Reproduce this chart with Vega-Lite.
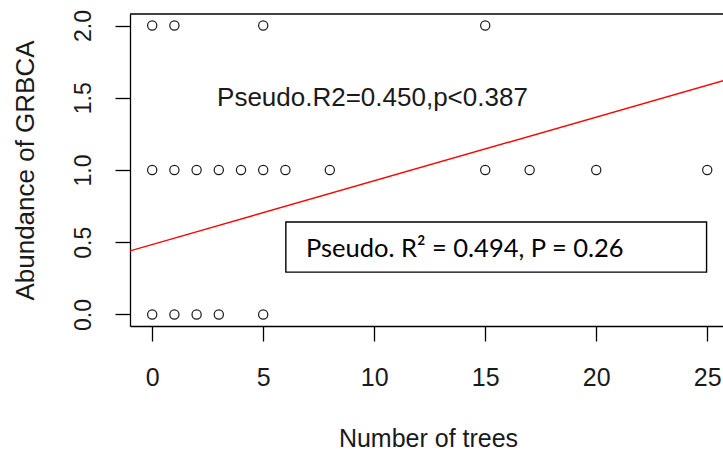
{
  "$schema": "https://vega.github.io/schema/vega-lite/v6.json",
  "width": 593,
  "height": 312,
  "autosize": {"type": "none"},
  "padding": {"left": 130, "top": 14, "right": 0, "bottom": 128},
  "background": "white",
  "config": {"view": {"stroke": null}, "font": "Liberation Sans"},
  "datasets": {
    "points": [
      {"trees": 0, "abundance": 2}, {"trees": 1, "abundance": 2}, {"trees": 5, "abundance": 2}, {"trees": 15, "abundance": 2},
      {"trees": 0, "abundance": 1}, {"trees": 1, "abundance": 1}, {"trees": 2, "abundance": 1}, {"trees": 3, "abundance": 1},
      {"trees": 4, "abundance": 1}, {"trees": 5, "abundance": 1}, {"trees": 6, "abundance": 1}, {"trees": 8, "abundance": 1},
      {"trees": 15, "abundance": 1}, {"trees": 17, "abundance": 1}, {"trees": 20, "abundance": 1}, {"trees": 25, "abundance": 1},
      {"trees": 0, "abundance": 0}, {"trees": 1, "abundance": 0}, {"trees": 2, "abundance": 0}, {"trees": 3, "abundance": 0},
      {"trees": 5, "abundance": 0}
    ],
    "fit": [{"trees": -1, "abundance": 0.44}, {"trees": 26, "abundance": 1.631}],
    "box": [{"trees": 6.02, "trees2": 24.97, "abundance": 0.293, "abundance2": 0.64}],
    "label1": [{"trees": 9.92, "abundance": 1.44, "label": "Pseudo.R2=0.450,p<0.387"}],
    "label2": [{"trees": 14.08, "abundance": 0.397, "label": "Pseudo. R² = 0.494, P = 0.26"}],
    "frame": [{"abundance": 2.08}]
  },
  "layer": [
    {
      "data": {"name": "fit"},
      "mark": {"type": "line", "color": "#ff0000", "strokeWidth": 1.4, "clip": true},
      "encoding": {
        "x": {
          "field": "trees", "type": "quantitative",
          "scale": {"domain": [-1, 25.71], "nice": false, "zero": false},
          "axis": {
            "title": "Number of trees",
            "values": [0, 5, 10, 15, 20, 25],
            "format": "d",
            "grid": false,
            "domainColor": "black", "domainWidth": 1.3,
            "tickColor": "black", "tickWidth": 1.3, "tickSize": 15,
            "labelAngle": 0, "labelAlign": "center", "labelBaseline": "alphabetic",
            "labelPadding": 44, "labelFontSize": 25, "labelFont": "Liberation Sans",
            "labelColor": "#1a1a1a", "labelFlush": false, "labelOverlap": false,
            "titleFont": "Liberation Sans", "titleFontSize": 25, "titleFontWeight": "normal",
            "titleColor": "#1a1a1a", "titleAlign": "center", "titleBaseline": "alphabetic",
            "titleX": 298, "titleY": 120
          }
        },
        "y": {
          "field": "abundance", "type": "quantitative",
          "scale": {"domain": [-0.08, 2.08], "nice": false, "zero": false},
          "axis": {
            "title": "Abundance of GRBCA",
            "values": [0, 0.5, 1, 1.5, 2],
            "format": ".1f",
            "grid": false,
            "domainColor": "black", "domainWidth": 1.3,
            "tickColor": "black", "tickWidth": 1.3, "tickSize": 15,
            "labelAngle": -90, "labelAlign": "center", "labelBaseline": "alphabetic",
            "labelPadding": 25, "labelFontSize": 23, "labelFont": "Liberation Sans",
            "labelColor": "#1a1a1a", "labelFlush": false, "labelOverlap": false,
            "titleFont": "Liberation Sans", "titleFontSize": 26, "titleFontWeight": "normal",
            "titleColor": "#1a1a1a", "titleAngle": -90, "titleAlign": "center", "titleBaseline": "alphabetic",
            "titleX": -97, "titleY": 156
          }
        }
      }
    },
    {
      "data": {"name": "points"},
      "mark": {"type": "point", "shape": "circle", "filled": false, "size": 85, "stroke": "#1a1a1a", "strokeWidth": 1.2, "opacity": 1},
      "encoding": {
        "x": {"field": "trees", "type": "quantitative"},
        "y": {"field": "abundance", "type": "quantitative"}
      }
    },
    {
      "data": {"name": "box"},
      "mark": {"type": "rect", "fill": "white", "stroke": "black", "strokeWidth": 1.4},
      "encoding": {
        "x": {"field": "trees", "type": "quantitative"},
        "x2": {"field": "trees2"},
        "y": {"field": "abundance", "type": "quantitative"},
        "y2": {"field": "abundance2"}
      }
    },
    {
      "data": {"name": "label1"},
      "mark": {"type": "text", "font": "Liberation Sans", "fontSize": 26, "color": "#1a1a1a", "align": "center", "baseline": "alphabetic"},
      "encoding": {
        "x": {"field": "trees", "type": "quantitative"},
        "y": {"field": "abundance", "type": "quantitative"},
        "text": {"field": "label"}
      }
    },
    {
      "data": {"name": "label2"},
      "mark": {"type": "text", "font": "Lato", "fontSize": 25.5, "color": "black", "align": "center", "baseline": "alphabetic"},
      "encoding": {
        "x": {"field": "trees", "type": "quantitative"},
        "y": {"field": "abundance", "type": "quantitative"},
        "text": {"field": "label"}
      }
    },
    {
      "data": {"name": "frame"},
      "mark": {"type": "rule", "color": "black", "strokeWidth": 1.3},
      "encoding": {
        "y": {"field": "abundance", "type": "quantitative"}
      }
    }
  ]
}
